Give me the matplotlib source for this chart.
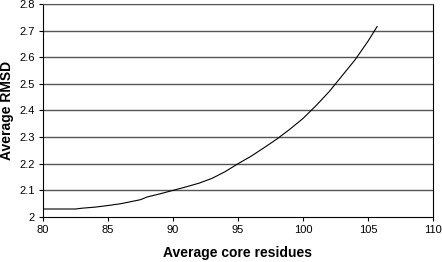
import numpy as np
import matplotlib.pyplot as plt

plt.rcParams['font.family'] = ['Liberation Sans', 'DejaVu Sans']

# Data
core_residues = [80, 81, 82, 82.5, 83, 84, 85, 86, 87, 87.5, 88, 89, 90, 91, 92,
                 93, 94, 95, 96, 97, 98, 99, 100, 101, 102, 103, 104, 105, 105.7]
avg_rmsd = [2.03, 2.03, 2.03, 2.03, 2.033, 2.037, 2.043, 2.05, 2.06, 2.065, 2.075, 2.087, 2.1, 2.113, 2.127,
            2.145, 2.17, 2.2, 2.228, 2.26, 2.293, 2.33, 2.37, 2.418, 2.47, 2.53, 2.59, 2.66, 2.715]

x_ticks = [80, 85, 90, 95, 100, 105, 110]
y_ticks = [2, 2.1, 2.2, 2.3, 2.4, 2.5, 2.6, 2.7, 2.8]
y_labels = ["2", "2.1", "2.2", "2.3", "2.4", "2.5", "2.6", "2.7", "2.8"]

fig = plt.figure(figsize=(4.42, 2.62), dpi=100)
ax = fig.add_axes([0.0973, 0.1718, 0.8823, 0.813])

for y in y_ticks[1:]:
    ax.axhline(y, color="#555555", linewidth=1.0, zorder=1)

ax.plot(core_residues, avg_rmsd, color="black", linewidth=0.8, zorder=3)

ax.set_xlim(80, 110)
ax.set_ylim(2, 2.8)
ax.set_xticks(x_ticks)
ax.set_yticks(y_ticks)
ax.set_yticklabels(y_labels)
ax.tick_params(direction="out", length=3, width=0.8, labelsize=8, pad=3)

for side in ["left", "bottom", "right"]:
    ax.spines[side].set_color("black")
    ax.spines[side].set_linewidth(0.8)
ax.spines["top"].set_color("#555555")

ax.set_xlabel("Average core residues", fontsize=10, fontweight="bold", labelpad=8)
ax.set_ylabel("Average RMSD", fontsize=10, fontweight="bold")
ax.yaxis.set_label_coords(-0.075, 0.5)

fig.savefig("out.png", dpi=100)
